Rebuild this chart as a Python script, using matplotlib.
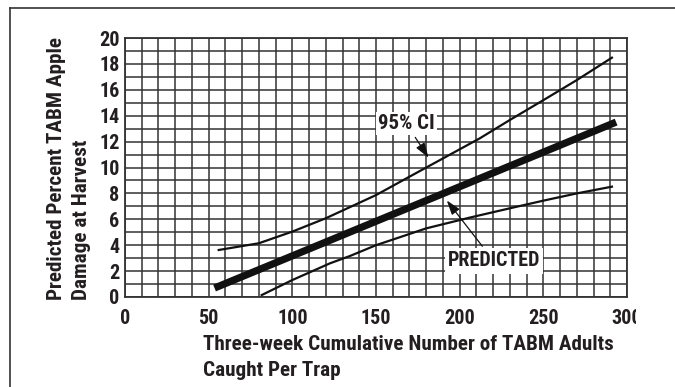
import matplotlib
matplotlib.use("Agg")
import matplotlib.pyplot as plt
from matplotlib.lines import Line2D
from matplotlib.transforms import Bbox, TransformedBbox

# Dados
PRED_X = [55.5, 291.5]
PRED_Y = [0.8, 13.4]

SUP_X = [56, 80, 100, 120, 150, 170, 190, 212, 230, 250, 270, 291]
SUP_Y = [3.63, 4.15, 5.05, 6.08, 7.87, 9.29, 10.7, 12.25, 13.67, 15.2, 16.75, 18.48]

INF_X = [81.7, 100, 122.5, 134.5, 150, 180, 206, 230, 250, 270, 291]
INF_Y = [0.15, 1.31, 2.6, 3.17, 4.0, 5.3, 6.13, 6.85, 7.44, 8.0, 8.52]

X_TICKS = [0, 50, 100, 150, 200, 250, 300]
Y_TICKS = [0, 2, 4, 6, 8, 10, 12, 14, 16, 18, 20]

FONTE = ["Roboto Condensed", "PT Sans Narrow", "Liberation Sans", "DejaVu Sans"]
COR_TEXTO = "#231f20"

plt.rcParams["font.family"] = FONTE
plt.rcParams["font.weight"] = "bold"

fig = plt.figure(figsize=(6.75, 3.87), dpi=100)
ax = fig.add_axes([125 / 675, 90 / 387, 502 / 675, 259 / 387])

# grade
for gx in range(0, 301, 10):
    ax.axvline(gx, color="#333333", lw=1.1, zorder=1)
for gy in range(0, 21):
    ax.axhline(gy, color="#333333", lw=1.1, zorder=1)

ax.plot(SUP_X, SUP_Y, color="#111111", lw=1.6, zorder=3)
ax.plot(INF_X, INF_Y, color="#111111", lw=1.6, zorder=3)
ax.plot(PRED_X, PRED_Y, color="#111111", lw=5.2, zorder=3)

ax.set_xlim(0, 300)
ax.set_ylim(0, 20)
ax.set_xticks(X_TICKS)
ax.set_yticks(Y_TICKS)
ax.tick_params(length=0, labelsize=14.5, labelcolor=COR_TEXTO)
ax.tick_params(axis="x", pad=9)
ax.tick_params(axis="y", pad=4)
for lbl in ax.get_xticklabels() + ax.get_yticklabels():
    lbl.set_fontweight("bold")
for s in ax.spines.values():
    s.set_color("#333333")
    s.set_linewidth(1.3)

# anotacoes
seta = dict(arrowstyle="-|>,head_length=0.6,head_width=0.2", color="#111111", lw=0.9)
ax.annotate("95% CI", xy=(182.3, 10.58), xytext=(168, 13.4),
            ha="center", va="center", fontsize=15, fontweight="bold", color=COR_TEXTO,
            bbox=dict(boxstyle="square,pad=0.1", fc="white", ec="none"),
            arrowprops=seta, zorder=5)
ax.annotate("PREDICTED", xy=(191.3, 7.62), xytext=(220.4, 2.78),
            ha="center", va="center", fontsize=14.5, fontweight="bold", color=COR_TEXTO,
            bbox=dict(boxstyle="square,pad=0.15", fc="white", ec="none"),
            arrowprops=seta, zorder=5)

fig.text(69 / 675, 87 / 387, "Predicted Percent TABM Apple\nDamage at Harvest",
         rotation=90, ha="center", va="bottom", multialignment="left",
         fontsize=15.2, fontweight="bold", color=COR_TEXTO, linespacing=1.45)
fig.text(203 / 675, (387 - 335) / 387,
         "Three-week Cumulative Number of TABM Adults\nCaught Per Trap",
         ha="left", va="top", fontsize=15.2, fontweight="bold", color=COR_TEXTO,
         linespacing=1.45)

# moldura externa
fig.add_artist(Line2D([10 / 675, 1], [1 - 8 / 387, 1 - 8 / 387],
                      transform=fig.transFigure, color="#333333", lw=1.2))
fig.add_artist(Line2D([10 / 675, 10 / 675], [0, 1 - 8 / 387],
                      transform=fig.transFigure, color="#333333", lw=1.2))

# o ultimo rotulo aparece cortado no original
fig.canvas.draw()
corte = TransformedBbox(Bbox([[0, 0], [636 / 675, 1]]), fig.transFigure)
for lbl in ax.get_xticklabels():
    lbl.set_clip_box(corte)
    lbl.set_clip_on(True)

fig.savefig("out.png", dpi=100)
